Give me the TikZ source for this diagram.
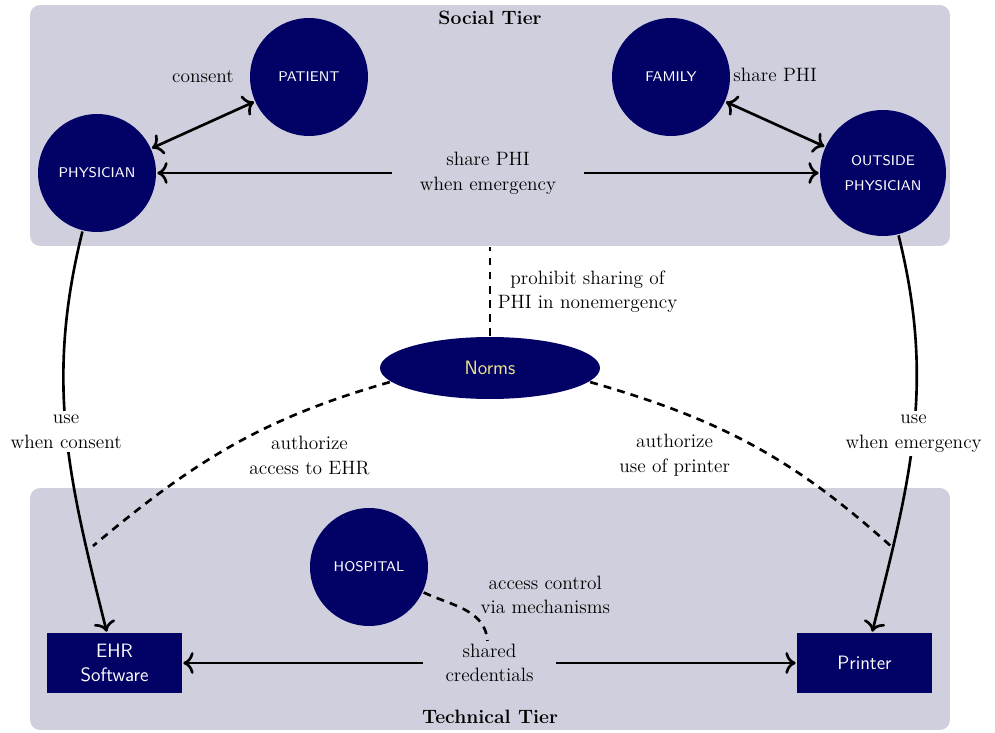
\documentclass[tikz,border=0pt]{standalone}
\usetikzlibrary{shapes.geometric,arrows.meta}
\definecolor{tierbg}{RGB}{207,207,221}
\definecolor{navy}{RGB}{2,2,102}
\definecolor{normtext}{RGB}{240,230,140}
\begin{document}
\fontsize{11}{14}\selectfont
\begin{tikzpicture}[x=0.02cm, y=-0.02cm, line width=1.5pt, >={To[scale=1.2]},
  tier/.style = {fill=tierbg, rounded corners=0.2cm, minimum width=18.4cm, inner sep=0pt},
  agent/.style = {circle, fill=navy, text=white, minimum size=2.36cm, inner sep=2pt, align=center, font=\sffamily\fontsize{8}{14}\selectfont},
  tool/.style = {rectangle, fill=navy, text=white, minimum width=2.7cm, minimum height=1.2cm, align=center, font=\sffamily},
  normline/.style = {dash pattern=on 4.5pt off 3.5pt}]
\useasboundingbox (0,0) rectangle (995,733);
\node[tier, minimum height=4.82cm] (social) at (490,125.5) {};
\node[tier, minimum height=4.84cm] (tech) at (490,609) {};
\node[font=\bfseries, below] (socialtitle) at (social.north) {Social Tier};
\node[font=\bfseries, above] (techtitle) at (tech.south) {Technical Tier};
\node[agent] (patient) at (309,77) {PATIENT};
\node[agent] (physician) at (97,173) {PHYSICIAN};
\node[agent] (family) at (671,77) {FAMILY};
\node[agent, minimum size=2.52cm] (outside) at (883,173) {OUTSIDE\\PHYSICIAN};
\node[agent] (hospital) at (369,567) {HOSPITAL};
\node[tool] (ehr) at (114.5,663) {EHR\\Software};
\node[tool] (printer) at (864.5,663) {Printer};
\node[ellipse, fill=navy, text=normtext, font=\sffamily, minimum width=4.4cm, minimum height=1.24cm] (norms) at (490,368) {Norms};
\coordinate (ehrend) at (93,546);
\coordinate (prtend) at (893,548);
\draw[<->] (physician) -- node[midway, above=0.7cm] {consent} (patient);
\draw[<->] (family) -- node[midway, above=0.7cm] {share PHI} (outside);
\draw[<->] (physician) -- node[fill=tierbg, inner xsep=0.55cm, align=center] {share PHI\\when emergency} (outside);
\draw[->] (physician) to[out=-104, in=104] node[fill=white, inner sep=2pt, align=center] {use\\when consent} (ehr);
\draw[->] (outside) to[out=-76, in=76] node[fill=white, inner sep=2pt, align=center] {use\\when emergency} (printer);
\draw[<->] (ehr) -- node[fill=tierbg, inner xsep=0.45cm, inner ysep=1pt, align=center] (cred) {shared\\credentials} (printer);
\draw[normline] (norms) -- node[right, align=center] {prohibit sharing of\\PHI in nonemergency} (social);
\draw[normline] (norms.188) to[out=196, in=40] node[midway, right, xshift=0.2cm, yshift=-0.2cm, align=center] {authorize\\access to EHR} (ehrend);
\draw[normline] (norms.-8) to[out=-16, in=138] node[midway, left, xshift=-0.3cm, yshift=-0.2cm, align=center] {authorize\\use of printer} (prtend);
\draw[normline] (hospital) to[out=-25, in=95] node[midway, right, xshift=0.15cm, yshift=0.3cm, align=center] {access control\\via mechanisms} (cred);
\end{tikzpicture}
\end{document}
